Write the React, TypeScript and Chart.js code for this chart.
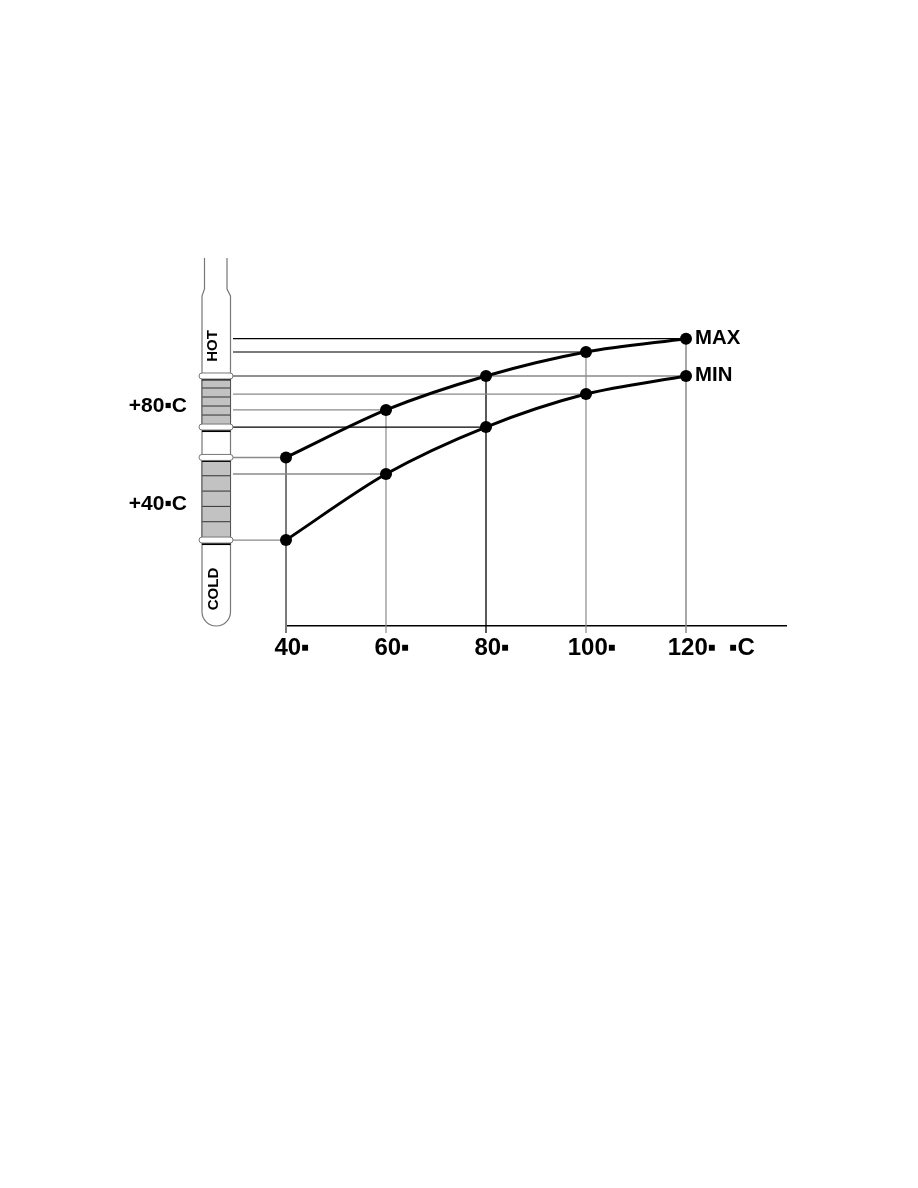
import React, { useEffect, useRef } from "react";
import { Chart, registerables } from "chart.js";

Chart.register(...registerables);

// ---- data ----
const xValues = [40, 60, 80, 100, 120];
const maxSeries = [60, 80, 94.3, 104.4, 110];
const minSeries = [25.2, 53, 72.8, 86.7, 94.3];
const seriesNames = ["MAX", "MIN"];
const tickValues = [40, 60, 80, 100, 120, 130];
const tickLabels = ["40▪", "60▪", "80▪", "100▪", "120▪", "▪C"];
const thermoLabels = ["+80▪C", "+40▪C"];
const thermoBandIndex = [2, 0];
const zoneLabels = ["HOT", "COLD"];

// ---- styles ----
const vLineColors = ["#7a7a7a", "#8a8a8a", "#000000", "#8a8a8a", "#8a8a8a"];
const vLineWidths = [2, 1.2, 1.3, 1.2, 1.5];
const hLineColorsMax = ["#8a8a8a", "#8a8a8a", "#8a8a8a", "#7a7a7a", "#000000"];
const hLineColorsMin = ["#8a8a8a", "#8a8a8a", "#000000", "#8a8a8a", "#8a8a8a"];
const hLineWidthsMax = [1.5, 1.2, 1.5, 2, 1.2];
const hLineWidthsMin = [1.2, 1.5, 1.3, 1.2, 1.5];

const W = 918;
const H = 1188;
const AREA_LEFT = 286;
const AREA_RIGHT = 786;
const AREA_TOP = 258;
const AREA_BOTTOM = 626;
const XAXIS_H = 40;
const FONT = '"Liberation Sans", Arial, sans-serif';

function line(ctx: CanvasRenderingContext2D, x1: number, y1: number, x2: number, y2: number) {
  ctx.beginPath();
  ctx.moveTo(x1, y1);
  ctx.lineTo(x2, y2);
  ctx.stroke();
}

function pill(ctx: CanvasRenderingContext2D, left: number, right: number, cy: number) {
  const h = 6;
  const r = 3;
  const t = cy - h / 2;
  ctx.beginPath();
  ctx.moveTo(left + r, t);
  ctx.lineTo(right - r, t);
  ctx.arc(right - r, cy, r, -Math.PI / 2, Math.PI / 2);
  ctx.lineTo(left + r, t + h);
  ctx.arc(left + r, cy, r, Math.PI / 2, Math.PI * 1.5);
  ctx.closePath();
  ctx.fillStyle = "#ffffff";
  ctx.fill();
  ctx.strokeStyle = "#777";
  ctx.lineWidth = 1;
  ctx.stroke();
}

function squeezedText(
  ctx: CanvasRenderingContext2D,
  text: string,
  x: number,
  y: number,
  sx: number,
  align: CanvasTextAlign
) {
  ctx.save();
  ctx.translate(x, y);
  ctx.scale(sx, 1);
  ctx.textAlign = align;
  ctx.textBaseline = "middle";
  ctx.fillText(text, 0, 0);
  ctx.restore();
}

const decorPlugin = {
  id: "decor",
  beforeDatasetsDraw(chart: any) {
    const ctx: CanvasRenderingContext2D = chart.ctx;
    const xs = chart.scales.x;
    const ys = chart.scales.y;
    const bottom = chart.chartArea.bottom;
    ctx.save();
    // vertical drop lines
    xValues.forEach((xv, i) => {
      const px = xs.getPixelForValue(xv);
      const topY = ys.getPixelForValue(Math.max(maxSeries[i], minSeries[i]));
      ctx.strokeStyle = vLineColors[i];
      ctx.lineWidth = vLineWidths[i];
      line(ctx, px, topY, px, bottom + 7);
    });
    // horizontal lines to thermometer
    const thermoRight = 233;
    xValues.forEach((xv, i) => {
      const px = xs.getPixelForValue(xv);
      ctx.strokeStyle = hLineColorsMax[i];
      ctx.lineWidth = hLineWidthsMax[i];
      const y1 = ys.getPixelForValue(maxSeries[i]);
      line(ctx, thermoRight, y1, px, y1);
      ctx.strokeStyle = hLineColorsMin[i];
      ctx.lineWidth = hLineWidthsMin[i];
      const y2 = ys.getPixelForValue(minSeries[i]);
      line(ctx, thermoRight, y2, px, y2);
    });

    // thermometer
    const nl = 204.5, nr = 227, bl = 202, br = 230.5;
    const top = 258, sh1 = 289, sh2 = 296, tb = 626;
    const r = (br - bl) / 2;
    ctx.strokeStyle = "#777";
    ctx.lineWidth = 1.2;
    ctx.beginPath();
    ctx.moveTo(nl, top);
    ctx.lineTo(nl, sh1);
    ctx.lineTo(bl, sh2);
    ctx.lineTo(bl, tb - r);
    ctx.arc((bl + br) / 2, tb - r, r, Math.PI, 0, true);
    ctx.lineTo(br, sh2);
    ctx.lineTo(nr, sh1);
    ctx.lineTo(nr, top);
    ctx.stroke();

    thermoBandIndex.forEach((idx) => {
      const yTop = ys.getPixelForValue(maxSeries[idx]);
      const yBot = ys.getPixelForValue(minSeries[idx]);
      const fTop = yTop + 3;
      const fBot = yBot - 3;
      ctx.fillStyle = "#c2c2c2";
      ctx.fillRect(bl, fTop, br - bl, fBot - fTop);
      ctx.strokeStyle = "#333";
      ctx.lineWidth = 1;
      for (let k = 1; k < 5; k++) {
        const y = fTop + ((fBot - fTop) * k) / 5;
        line(ctx, bl, y, br, y);
      }
      ctx.strokeStyle = "#555";
      line(ctx, bl, fTop, bl, fBot);
      line(ctx, br, fTop, br, fBot);
      ctx.fillStyle = "#000";
      ctx.fillRect(bl, yTop + 2, br - bl, 2.5);
      ctx.fillRect(bl, yBot + 2.5, br - bl, 2.5);
      pill(ctx, 199, 233, yTop);
      pill(ctx, 199, 233, yBot);
    });
    ctx.restore();
  },
  afterDatasetsDraw(chart: any) {
    const ctx: CanvasRenderingContext2D = chart.ctx;
    const xs = chart.scales.x;
    const ys = chart.scales.y;
    ctx.save();
    ctx.fillStyle = "#000";
    // series labels at the last point
    const last = xValues.length - 1;
    [maxSeries, minSeries].forEach((s, k) => {
      const px = xs.getPixelForValue(xValues[last]);
      const py = ys.getPixelForValue(s[last]);
      ctx.font = `bold 21px ${FONT}`;
      squeezedText(ctx, seriesNames[k], px + 9, py - 1, 0.97, "left");
    });
    // thermometer labels
    thermoBandIndex.forEach((idx, b) => {
      const yTop = ys.getPixelForValue(maxSeries[idx]);
      const yBot = ys.getPixelForValue(minSeries[idx]);
      ctx.font = `bold 21px ${FONT}`;
      squeezedText(ctx, thermoLabels[b], 187, (yTop + yBot) / 2 + 5, 1.0, "right");
    });
    const zonePos = [
      [213, 346],
      [214, 589],
    ];
    zoneLabels.forEach((t, i) => {
      ctx.save();
      ctx.translate(zonePos[i][0], zonePos[i][1]);
      ctx.rotate(-Math.PI / 2);
      ctx.font = `bold 15px ${FONT}`;
      ctx.textAlign = "center";
      ctx.textBaseline = "middle";
      ctx.fillText(t, 0, 0);
      ctx.restore();
    });
    ctx.restore();
  },
};

export default function App() {
  const ref = useRef<HTMLCanvasElement | null>(null);
  useEffect(() => {
    if (!ref.current) return;
    const mk = (s: number[]) => xValues.map((x, i) => ({ x, y: s[i] }));
    const chart = new Chart(ref.current, {
      type: "line",
      data: {
        datasets: [maxSeries, minSeries].map((s, k) => ({
          label: seriesNames[k],
          data: mk(s),
          borderColor: "#000",
          backgroundColor: "#000",
          borderWidth: 3,
          pointRadius: 6,
          pointBackgroundColor: "#000",
          pointBorderWidth: 0,
          tension: 0.3,
          clip: false as any,
        })),
      },
      options: {
        responsive: false,
        animation: false,
        devicePixelRatio: 1,
        layout: {
          padding: {
            left: AREA_LEFT,
            right: W - AREA_RIGHT,
            top: AREA_TOP,
            bottom: H - AREA_BOTTOM - XAXIS_H,
          },
        },
        plugins: {
          legend: { display: false },
          tooltip: { enabled: false },
        },
        scales: {
          x: {
            type: "linear",
            min: 40,
            max: 140,
            afterBuildTicks: (s: any) => {
              s.ticks = tickValues.map((v) => ({ value: v }));
            },
            afterFit: (s: any) => {
              s.height = XAXIS_H;
            },
            grid: { display: false, drawTicks: false },
            border: { display: true, color: "#000", width: 1.5 },
            ticks: {
              autoSkip: false,
              maxRotation: 0,
              padding: 10,
              labelOffset: 6,
              color: "#000",
              font: { family: FONT, size: 24, weight: "bold", lineHeight: 1 },
              callback: (v: any) => {
                const i = tickValues.indexOf(Number(v));
                return i >= 0 ? tickLabels[i] : "";
              },
            },
          },
          y: { type: "linear", display: false, min: -11, max: 144 },
        },
      },
      plugins: [decorPlugin],
    } as any);
    return () => chart.destroy();
  }, []);
  return (
    <canvas
      ref={ref}
      width={W}
      height={H}
      style={{ position: "absolute", left: 0, top: 0, width: W, height: H }}
    />
  );
}
